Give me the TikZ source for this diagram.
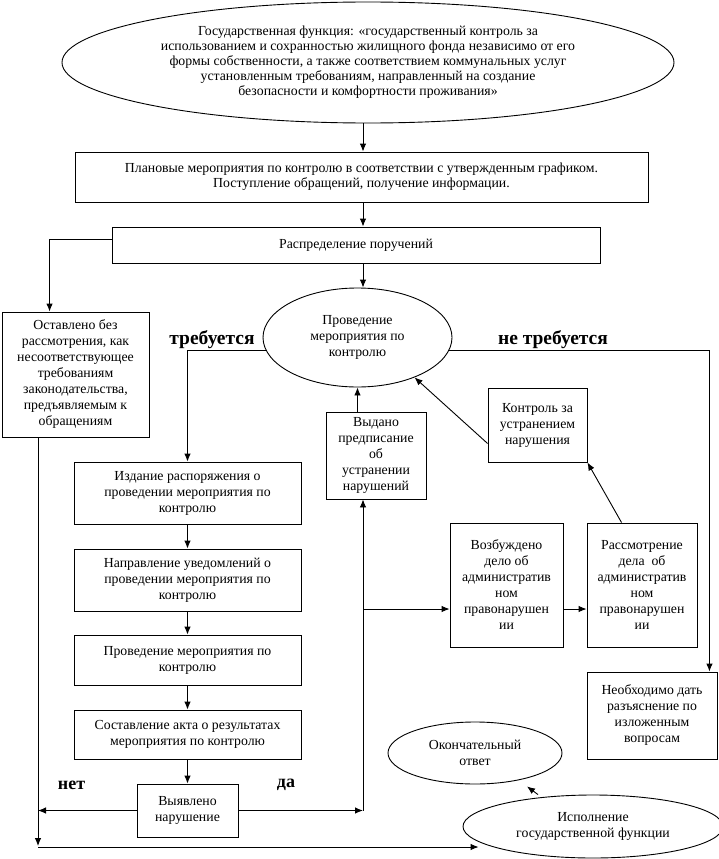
\documentclass[tikz,border=0pt]{standalone}
\usepackage{fontspec}
\setmainfont{Liberation Serif}
\usetikzlibrary{shapes.geometric,arrows.meta,calc}
\begin{document}
\begin{tikzpicture}[x=1pt,y=-1pt,
  every node/.style={font=\fontsize{13.8}{16}\selectfont, align=center, inner sep=0pt},
  box/.style={draw, line width=0.9pt, rectangle},
  ell/.style={draw, line width=0.9pt, ellipse},
  arr/.style={line width=0.9pt, -{Latex[length=8pt,width=6.5pt]}},
  lbl/.style={font=\fontsize{19.5}{21}\selectfont\bfseries},
  slbl/.style={font=\fontsize{18}{20}\selectfont\bfseries}]
\useasboundingbox (0,0) rectangle (718,859);

% nodes
\node[ell, minimum width=612pt, minimum height=121pt, font=\fontsize{13.8}{15}\selectfont] (f) at (368,62.5)
  {Государственная функция: «государственный контроль за\\
   использованием и сохранностью жилищного фонда независимо от его\\
   формы собственности, а также соответствием коммунальных услуг\\
   установленным требованиям, направленный на создание\\
   безопасности и комфортности проживания»};
\node[box, minimum width=573pt, minimum height=50pt, font=\fontsize{13.8}{15}\selectfont] (plan) at (361.5,177)
  {Плановые мероприятия по контролю в соответствии с утвержденным графиком.\\
   Поступление обращений, получение информации.};
\node[box, minimum width=488pt, minimum height=36pt] (rasp) at (356,245)
  {Распределение поручений};
\node[ell, minimum width=189pt, minimum height=99pt] (prov) at (357.5,337.5)
  {Проведение\\мероприятия по\\контролю};
\node[box, minimum width=147pt, minimum height=125pt] (ost) at (75.5,374.5)
  {Оставлено без\\рассмотрения, как\\несоответствующее\\требованиям\\законодательства,\\предъявляемым к\\обращениям};
\node[box, minimum width=100pt, minimum height=87pt] (vyd) at (376,455.5)
  {Выдано\\предписание\\об\\устранении\\нарушений};
\node[box, minimum width=99pt, minimum height=74pt] (kontr) at (537.5,425)
  {Контроль за\\устранением\\нарушения};
\node[box, minimum width=227pt, minimum height=62pt] (izd) at (187.5,493)
  {Издание распоряжения о\\проведении мероприятия по\\контролю};
\node[box, minimum width=227pt, minimum height=62pt] (napr) at (187.5,580)
  {Направление уведомлений о\\проведении мероприятия по\\контролю};
\node[box, minimum width=227pt, minimum height=50pt] (provm) at (187.5,660)
  {Проведение мероприятия по\\контролю};
\node[box, minimum width=227pt, minimum height=49pt] (sost) at (187.5,734.5)
  {Составление акта о результатах\\мероприятия по контролю};
\node[box, minimum width=101pt, minimum height=53pt] (vyyav) at (187.5,810.5)
  {Выявлено\\нарушение};
\node[box, minimum width=113pt, minimum height=124pt] (vozb) at (506.5,585)
  {Возбуждено\\дело об\\административ\\ном\\правонарушен\\ии};
\node[box, minimum width=110pt, minimum height=124pt] (rassm) at (642,585)
  {Рассмотрение\\дела\ \ об\\административ\\ном\\правонарушен\\ии};
\node[box, minimum width=130pt, minimum height=87pt] (neob) at (652,715.5)
  {Необходимо дать\\разъяснение по\\изложенным\\вопросам};
\node[ell, minimum width=174pt, minimum height=62pt] (okon) at (475,753)
  {Окончательный\\ответ};
\node[ell, minimum width=260pt, minimum height=63pt] (ispol) at (593,826.5)
  {Исполнение\\государственной функции};

% labels
\node[lbl] (treb) at (212,340) {требуется};
\node[lbl] (netreb) at (553,340) {не требуется};
\node[slbl] (net) at (71.5,785) {нет};
\node[slbl] (da) at (286,785) {да};

% helper coordinates
\coordinate (cx) at (363,0);
\coordinate (bl) at (38,847);

% connectors
\draw[arr] (cx |- f.south) -- (cx |- plan.north);
\draw[arr] (cx |- plan.south) -- (cx |- rasp.north);
\draw[arr] (cx |- rasp.south) -- (cx |- prov.north);
\draw[arr] ($(rasp.west)+(0,-6)$) -| ($(ost.north west)+(48,0)$);
\draw[arr] (prov.188) -| (izd.north);
\draw[arr] (prov.-8) -| ($(neob.north east)+(-8,0)$);
\draw[arr] (vyd.north -| prov.south) -- (prov.south);
\draw[arr] ($(kontr.south west)+(0,-19)$) -- (prov.-35);
\draw[arr] ($(rassm.north west)+(35,0)$) -- (kontr.south east);
\draw[arr] (izd) -- (napr);
\draw[arr] (napr) -- (provm);
\draw[arr] (provm) -- (sost);
\draw[arr] (sost) -- (vyyav);
\draw[arr] (vyyav.west) -- (vyyav.west -| bl);
\draw[arr] (vyyav.east) -- (vyyav.east -| cx);
\draw[arr] (vyyav.east -| cx) -- (cx |- vyd.south);
\coordinate (vin) at ($(vozb.west)+(0,24)$);
\draw[arr] (cx |- vin) -- (vin);
\draw[arr] ($(vozb.east)+(0,24)$) -- ($(rassm.west)+(0,24)$);
\draw[arr] (bl |- ost.south) -- ($(bl)+(0,-1)$);
\draw[arr] (bl) -- ($(bl -| ispol.west)+(16,0)$);
\draw[arr] ($(ispol.north)+(-55,0)$) -- ($(okon.south)+(52,2)$);
\end{tikzpicture}
\end{document}
